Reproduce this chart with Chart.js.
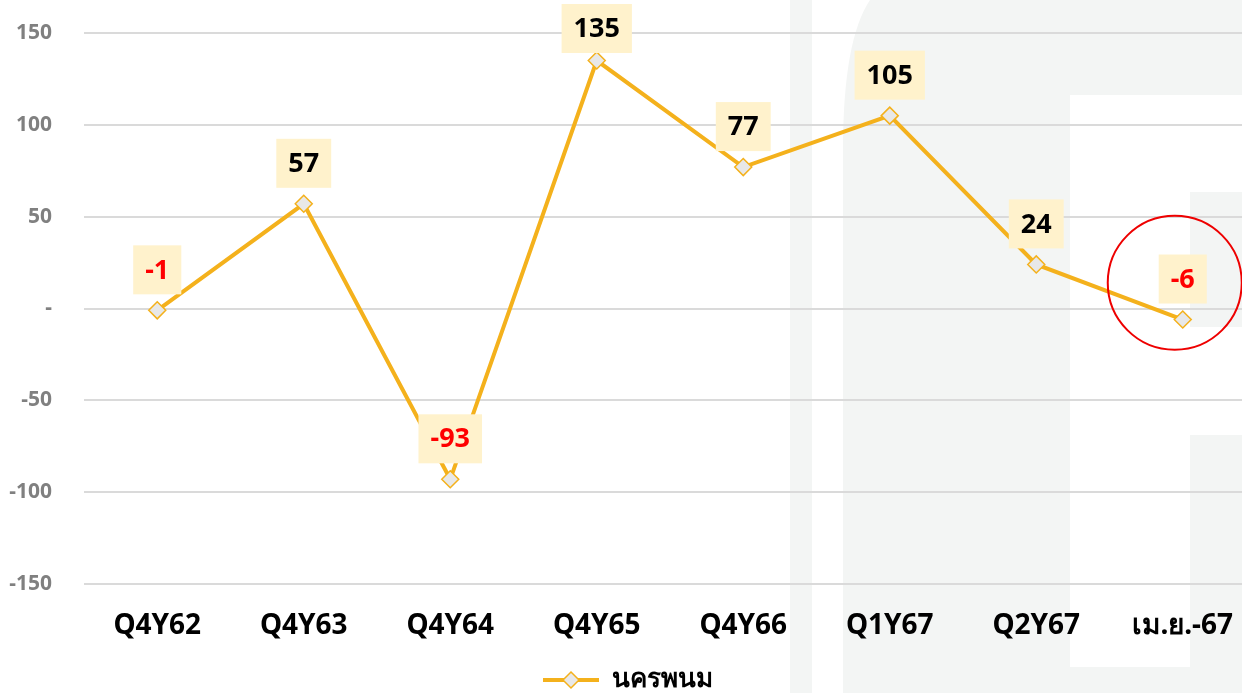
<!DOCTYPE html>
<html>
<head>
<meta charset="utf-8">
<script src="https://cdn.jsdelivr.net/npm/chart.js@4.4.1/dist/chart.umd.min.js"></script>
<style>
  html, body { margin: 0; padding: 0; background: #ffffff; overflow: hidden; }
  #wrap { position: relative; width: 1262px; height: 703px; }
</style>
</head>
<body>
<div id="wrap"><canvas id="chart"></canvas></div>
<script>
const categories = ["Q4Y62", "Q4Y63", "Q4Y64", "Q4Y65", "Q4Y66", "Q1Y67", "Q2Y67", "เม.ย.-67"];
const values = [-1, 57, -93, 135, 77, 105, 24, -6];
const seriesName = "นครพนม";
const yTicks = [150, 100, 50, 0, -50, -100, -150];

const highlightIndex = 7;
const highlightValue = 14;

const Config = {
  colors: {
    line: "#f4b11c",
    point: "#e8e8e8",
    grid: "#dadada",
    yText: "#808080",
    xText: "#000000",
    labelBox: "#fff2cc",
    positive: "#000000",
    negative: "#ff0000",
    circle: "#ee0000",
    watermark: "#f3f5f4",
  },
  font: `"Noto Sans", "Open Sans", sans-serif`,
};

Chart.defaults.font.family = Config.font;

// legend symbol: line with a diamond in the middle
const legendIcon = document.createElement("canvas");
legendIcon.width = 56;
legendIcon.height = 20;
(() => {
  const c = legendIcon.getContext("2d");
  c.strokeStyle = Config.colors.line;
  c.lineWidth = 4;
  c.beginPath();
  c.moveTo(0, 10);
  c.lineTo(56, 10);
  c.stroke();
  c.fillStyle = Config.colors.point;
  c.lineWidth = 1.5;
  c.beginPath();
  c.moveTo(28, 2);
  c.lineTo(36, 10);
  c.lineTo(28, 18);
  c.lineTo(20, 10);
  c.closePath();
  c.fill();
  c.stroke();
})();

// faint slide watermark behind the plot
const watermark = {
  id: "watermark",
  beforeDraw(chart) {
    const c = chart.ctx;
    c.save();
    c.fillStyle = Config.colors.watermark;
    c.fillRect(790, 0, 22, 693);
    c.beginPath();
    c.moveTo(870, 0);
    c.lineTo(1262, 0);
    c.lineTo(1262, 693);
    c.lineTo(843, 693);
    c.lineTo(843, 150);
    c.quadraticCurveTo(843, 40, 870, 0);
    c.closePath();
    c.fill();
    c.fillStyle = "#ffffff";
    c.fillRect(1070, 95, 120, 572);
    c.fillRect(1190, 95, 72, 97);
    c.fillRect(1190, 327, 72, 108);
    c.restore();
  },
};

const valueLabels = {
  id: "valueLabels",
  afterDatasetsDraw(chart) {
    const c = chart.ctx;
    const meta = chart.getDatasetMeta(0);
    c.save();
    c.font = `bold 27px ${Config.font}`;
    c.textAlign = "center";
    c.textBaseline = "middle";
    meta.data.forEach((pt, i) => {
      const v = values[i];
      const text = String(v);
      const w = c.measureText(text).width + 24;
      const h = 49;
      let top = pt.y - 16 - h;
      if (top < 4) top = 4;
      c.fillStyle = Config.colors.labelBox;
      c.fillRect(pt.x - w / 2, top, w, h);
      c.fillStyle = v < 0 ? Config.colors.negative : Config.colors.positive;
      c.fillText(text, pt.x, top + h / 2 + 1);
    });
    c.restore();
  },
};

const highlight = {
  id: "highlight",
  afterDraw(chart) {
    const c = chart.ctx;
    const x = chart.scales.x.getPixelForValue(highlightIndex) - 8;
    const y = chart.scales.y.getPixelForValue(highlightValue);
    c.save();
    c.strokeStyle = Config.colors.circle;
    c.lineWidth = 2;
    c.beginPath();
    c.arc(x, y, 67, 0, Math.PI * 2);
    c.stroke();
    c.restore();
  },
};

new Chart(document.getElementById("chart"), {
  type: "line",
  data: {
    labels: categories,
    datasets: [
      {
        label: seriesName,
        data: values,
        borderColor: Config.colors.line,
        borderWidth: 4,
        tension: 0,
        pointStyle: "rectRot",
        pointRadius: 8.5,
        pointBackgroundColor: Config.colors.point,
        pointBorderColor: Config.colors.line,
        pointBorderWidth: 1.5,
      },
    ],
  },
  options: {
    responsive: true,
    maintainAspectRatio: false,
    animation: false,
    layout: { autoPadding: false, padding: { top: 33, right: 6, left: 0, bottom: 0 } },
    scales: {
      x: {
        offset: true,
        grid: { display: false },
        border: { display: false },
        ticks: {
          color: Config.colors.xText,
          font: { size: 28, weight: "bold" },
          padding: 17,
          maxRotation: 0,
          autoSkip: false,
        },
        afterFit: (scale) => { scale.height = 73; },
      },
      y: {
        min: -150,
        max: 150,
        afterBuildTicks: (scale) => { scale.ticks = yTicks.map((v) => ({ value: v })); },
        grid: { color: Config.colors.grid, lineWidth: 2, drawTicks: false },
        border: { display: false },
        ticks: {
          color: Config.colors.yText,
          font: { size: 21, weight: "bold" },
          padding: 32,
          callback: (v) => (v === 0 ? "-" : v),
        },
        afterFit: (scale) => {
          scale.width = 84;
          scale.paddingTop = 0;
          scale.paddingBottom = 0;
        },
      },
    },
    plugins: {
      legend: {
        position: "bottom",
        labels: {
          usePointStyle: true,
          pointStyle: legendIcon,
          pointStyleWidth: 56,
          color: "#000000",
          font: { size: 26, weight: "bold" },
          padding: 10,
        },
      },
      tooltip: { enabled: false },
    },
  },
  plugins: [watermark, valueLabels, highlight],
});
</script>
</body>
</html>
